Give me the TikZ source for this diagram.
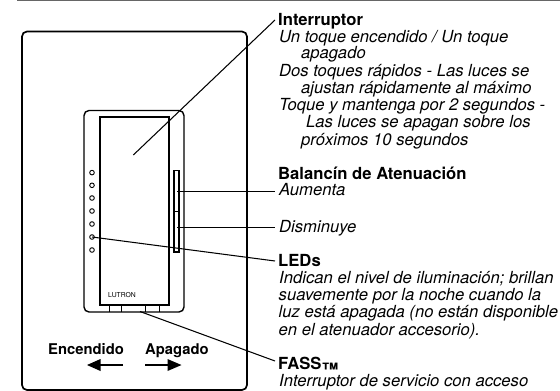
\documentclass[tikz,border=0pt]{standalone}
\usepackage{fontspec}
\setmainfont{TeX Gyre Heros}
\newcommand{\txtsize}{\fontsize{16.65}{18}\selectfont}
\tikzset{
  plate/.style={draw=black,line width=1.7pt,rounded corners=5pt},
  frame/.style={draw=black,line width=1.4pt,rounded corners=5pt},
  thinbox/.style={draw=black,line width=1.3pt},
  led/.style={circle,draw=black,line width=0.9pt,inner sep=0pt,minimum size=4.6pt},
  leader/.style={draw=black,line width=1.05pt},
  head/.style={anchor=base west,inner sep=0pt,font=\txtsize\bfseries},
  body/.style={anchor=base west,inner sep=0pt,font=\txtsize\itshape},
  dirlabel/.style={anchor=base west,inner sep=0pt,font=\fontsize{14.8}{16}\selectfont\bfseries},
  bigarrow/.style={line width=2.8pt,draw=black},
  arrowhead/.style={fill=black,draw=none}
}
\begin{document}
\begin{tikzpicture}[x=1pt,y=-1pt]
\useasboundingbox (0,0) rectangle (560,391);
\fill[white] (0,0) rectangle (560,391);
% top rule
\draw[draw=black!60,line width=1.2pt] (17,0.3) -- (560,0.3);
% wall plate and dimmer
\draw[plate] (22,31.5) rectangle (247,390);
\draw[frame] (84,110.5) rectangle (184,312);
\draw[thinbox] (100,117) rectangle (169,305);
\draw[thinbox] (174,170.5) rectangle (179,252);
\draw[line width=1pt] (174,211) -- (179,211);
% FASS tabs
\foreach \x in {109.5,121,145,159} \draw[line width=1pt] (\x,305) -- (\x,312);
% LEDs
\node[led] (l1) at (92,172.6) {};
\node[led] (l2) at (92,185.3) {};
\node[led] (l3) at (92,198) {};
\node[led] (l4) at (92,211) {};
\node[led] (l5) at (92,224) {};
\node[led] (l6) at (92,237) {};
\node[led] (l7) at (92,250) {};
\node[anchor=base west,inner sep=0pt,font=\fontsize{6.8}{8}\selectfont] (lutron) at (108,297.6) {LUTRON};
% anchor points of the leaders
\coordinate (pSwitch) at (133.3,155);
\coordinate (eSwitch) at (275,20);
\coordinate (pUp) at (177,191.5);
\coordinate (eUp) at (275,191.5);
\coordinate (pDown) at (177,227.5);
\coordinate (eDown) at (275,227.5);
\coordinate (eLed) at (275,261);
\coordinate (pFass) at (140,311.5);
\coordinate (eFass) at (275,361);
\draw[leader] (pSwitch) -- (eSwitch);
\draw[leader] (pUp) -- (eUp);
\draw[leader] (pDown) -- (eDown);
\draw[leader] (l6.center) -- (eLed);
\draw[leader] (pFass) -- (eFass);
% direction labels
\node[dirlabel] (on) at (48,354) {Encendido};
\node[dirlabel] (off) at (145,354) {Apagado};
\coordinate (onA) at (123,365);
\coordinate (onB) at (99,365);
\coordinate (offA) at (145,365);
\coordinate (offB) at (169,365);
\draw[bigarrow] (onA) -- (onB);
\fill[arrowhead] (87,365) -- (100.5,359) -- (100.5,371) -- cycle;
\draw[bigarrow] (offA) -- (offB);
\fill[arrowhead] (181.5,365) -- (167.5,359) -- (167.5,371) -- cycle;
% text
\node[head] (t1) at (278,25) {Interruptor};
\node[body] (t2) at (279,42) {Un toque encendido / Un toque};
\node[body] (t3) at (301,58.5) {apagado};
\node[body] (t4) at (279,76) {Dos toques rápidos - Las luces se};
\node[body] (t5) at (301,93) {ajustan rápidamente al máximo};
\node[body] (t6) at (279,110.7) {Toque y mantenga por 2 segundos -};
\node[body] (t7) at (306,127.7) {Las luces se apagan sobre los};
\node[body] (t8) at (301,145) {próximos 10 segundos};
\node[head] (t9) at (278,179) {Balancín de Atenuación};
\node[body] (t10) at (279,195) {Aumenta};
\node[body] (t11) at (279,232.7) {Disminuye};
\node[head] (t12) at (278,266.7) {LEDs};
\node[body] (t13) at (279,283.3) {Indican el nivel de iluminación; brillan};
\node[body] (t14) at (278.5,300) {suavemente por la noche cuando la};
\node[body] (t15) at (278.5,317.3) {luz está apagada (no están disponible};
\node[body] (t16) at (278.5,335) {en el atenuador accesorio).};
\node[head] (t17) at (278,369) {FASS\smash{\raisebox{-6.5pt}{\fontsize{17}{18}\selectfont ™}}};
\node[body] (t18) at (279,386) {Interruptor de servicio con acceso};
\end{tikzpicture}
\end{document}
